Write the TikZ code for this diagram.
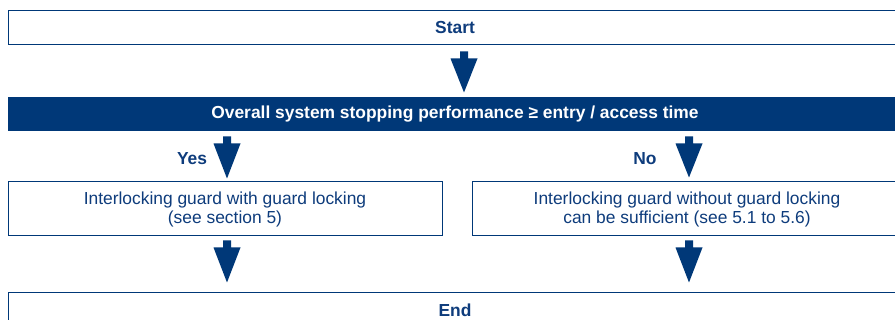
\documentclass[tikz,border=0pt]{standalone}
\usepackage{fontspec}
\setmainfont{Liberation Sans}
\usetikzlibrary{calc}
\definecolor{dblue}{HTML}{003878}
\definecolor{tblue}{HTML}{0E3C7C}
\begin{document}
\begin{tikzpicture}[x=1pt,y=-1pt,
  box/.style={draw=dblue,line width=1pt,fill=white,inner sep=0pt,align=center,
    text=tblue,font=\fontsize{17.4}{19}\selectfont},
  boldbox/.style={box,font=\fontsize{17.4}{19}\selectfont\bfseries},
  barbox/.style={draw=dblue,fill=dblue,line width=1pt,inner sep=0pt,text=white,
    font=\fontsize{17.4}{19}\selectfont\bfseries},
  lbl/.style={text=tblue,font=\fontsize{17.4}{19}\selectfont\bfseries,inner sep=0pt},
  fat/.style={to path={let \p1=(\tikztostart), \p2=(\tikztotarget) in
    (\x1-4,\y1) -- (\x1+4,\y1) -- (\x1+4,\y1-7) -- (\x1+13.5,\y1-7) -- (\x2,\y2)
    -- (\x1-13.5,\y1-7) -- (\x1-4,\y1-7) -- cycle}},
  arr/.style={fill=dblue}]
\useasboundingbox (0,0) rectangle (895,320);
\clip (0,0) rectangle (895,320);
% nodes
\node[boldbox,minimum width=894,minimum height=34] (start) at (455,28) {Start};
\node[barbox,minimum width=894,minimum height=33] (bar) at (455,114.5)
  {Overall system stopping performance ≥ entry / access time};
\node[box,minimum width=434,minimum height=54] (with) at (225,209)
  {Interlocking guard with guard locking\\(see section 5)};
\node[box,minimum width=430,minimum height=54] (without) at (687,209)
  {Interlocking guard without guard locking\\can be sufficient (see 5.1 to 5.6)};
\node[boldbox,minimum width=894,minimum height=34] (end) at (455,310) {End};
\node[lbl] (yes) at (192,159) {Yes};
\node[lbl] (no) at (645,159) {No};
% arrow end points
\coordinate (a1s) at ($(start.south)+(9,6)$);
\coordinate (a1e) at ($(bar.north)+(9,-5)$);
\coordinate (a2s) at ($(bar.south -| 227,0)+(0,5)$);
\coordinate (a2e) at ($(with.north -| 227,0)+(0,-3)$);
\coordinate (a3s) at ($(bar.south -| 689,0)+(0,5)$);
\coordinate (a3e) at ($(without.north -| 689,0)+(0,-4)$);
\coordinate (a4s) at ($(with.south -| 227,0)+(0,4)$);
\coordinate (a4e) at ($(end.north -| 227,0)+(0,-10)$);
\coordinate (a5s) at ($(without.south -| 689,0)+(0,4)$);
\coordinate (a5e) at ($(end.north -| 689,0)+(0,-10)$);
% arrows
\fill[arr] (a1s) to[fat] (a1e);
\fill[arr] (a2s) to[fat] (a2e);
\fill[arr] (a3s) to[fat] (a3e);
\fill[arr] (a4s) to[fat] (a4e);
\fill[arr] (a5s) to[fat] (a5e);
\end{tikzpicture}
\end{document}
